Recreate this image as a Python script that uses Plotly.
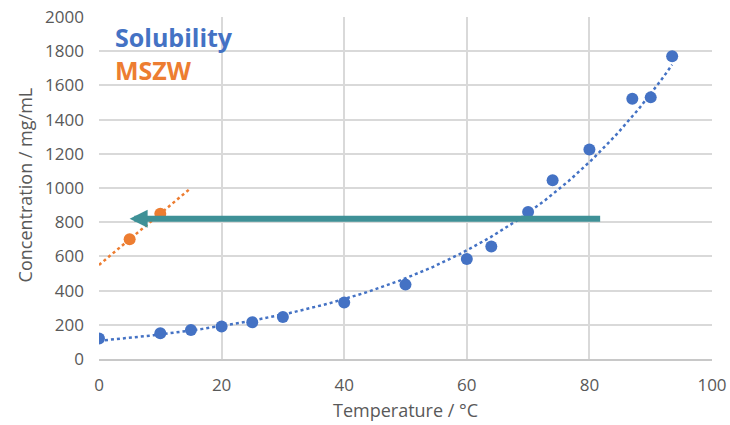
import numpy as np
import plotly.graph_objects as go

# ---- data ----
sol_temp = [0, 10, 15, 20, 25, 30, 40, 50, 60, 64, 70, 74, 80, 87, 90, 93.5]
sol_conc = [120, 150, 170, 190, 215, 245, 330, 435, 585, 658, 860, 1045, 1225, 1522, 1530, 1770]
mszw_temp = [5, 10]
mszw_conc = [700, 850]
x_ticks = [0, 20, 40, 60, 80, 100]
y_ticks = [0, 200, 400, 600, 800, 1000, 1200, 1400, 1600, 1800, 2000]
arrow_conc = 820
arrow_t_from = 82
arrow_t_to = 5

BLUE = "#4472C4"
ORANGE = "#ED7D31"
TEAL = "#3F9197"
GREY = "#595959"
GRID = "#D9D9D9"

# exponential trendline for solubility (fit like Excel)
st = np.array(sol_temp, dtype=float)
sc = np.array(sol_conc, dtype=float)
b, lna = np.polyfit(st, np.log(sc), 1)
tx = np.linspace(st.min(), st.max(), 200)
ty = np.exp(lna) * np.exp(b * tx)

# linear trendline for MSZW, extended 5 units both ways
mt = np.array(mszw_temp, dtype=float)
mc = np.array(mszw_conc, dtype=float)
m, c0 = np.polyfit(mt, mc, 1)
mx = np.array([mt.min() - 5, mt.max() + 5])
my = m * mx + c0

fig = go.Figure()
fig.add_trace(go.Scatter(x=tx, y=ty, mode="lines",
                         line=dict(color=BLUE, width=2.5, dash="dot"),
                         hoverinfo="skip", showlegend=False))
fig.add_trace(go.Scatter(x=mx, y=my, mode="lines",
                         line=dict(color=ORANGE, width=2.5, dash="dot"),
                         hoverinfo="skip", showlegend=False))
fig.add_trace(go.Scatter(x=sol_temp, y=sol_conc, mode="markers",
                         marker=dict(color=BLUE, size=12), name="Solubility",
                         showlegend=False))
fig.add_trace(go.Scatter(x=mszw_temp, y=mszw_conc, mode="markers",
                         marker=dict(color=ORANGE, size=12), name="MSZW",
                         showlegend=False))

fig.add_annotation(x=arrow_t_to, y=arrow_conc, ax=arrow_t_from, ay=arrow_conc,
                   xref="x", yref="y", axref="x", ayref="y",
                   showarrow=True, arrowhead=2, arrowsize=0.6, arrowwidth=6,
                   arrowcolor=TEAL, text="")

fig.add_annotation(x=0.023, y=0.893, xref="paper", yref="paper",
                   xanchor="left", yanchor="middle", showarrow=False, align="left",
                   text=(f"<b><span style='color:{BLUE}'>Solubility</span><br>"
                         f"<span style='color:{ORANGE}'>MSZW</span></b>"),
                   font=dict(family="Open Sans", size=25, color=BLUE))

axis_font = dict(family="Open Sans", size=17, color=GREY)
title_font = dict(family="Open Sans", size=18, color=GREY)

fig.add_annotation(x=0.5, y=-0.15, xref="paper", yref="paper",
                   xanchor="center", yanchor="middle", showarrow=False,
                   text="Temperature / °C", font=title_font)
fig.add_annotation(x=-0.121, y=0.51, xref="paper", yref="paper",
                   xanchor="center", yanchor="middle", showarrow=False,
                   textangle=-90, text="Concentration / mg/mL", font=title_font)

fig.update_xaxes(range=[0, 100], tickvals=x_ticks, showgrid=True, gridcolor=GRID,
                 gridwidth=1.5, zeroline=False, showline=True, linecolor="#C8C8C8",
                 linewidth=1.5, mirror=False, ticks="", tickfont=axis_font,
                 ticklabelstandoff=10, automargin=False, ticklabeloverflow="allow")
fig.update_yaxes(range=[0, 2000], tickvals=y_ticks, showgrid=True, gridcolor=GRID,
                 gridwidth=1.5, zeroline=False, showline=False, ticks="",
                 tickfont=axis_font, ticklabelstandoff=14, automargin=False,
                 ticklabeloverflow="allow")

fig.update_layout(width=730, height=425,
                  margin=dict(l=99, r=18, t=17, b=66),
                  plot_bgcolor="white", paper_bgcolor="white",
                  font=dict(family="Open Sans", color=GREY))

# remove the page's default body margin so the 730x425 figure fills the window
fig.write_html("out.html",
               config={"displayModeBar": False},
               post_script="document.body.style.margin='0px';"
                           "document.body.style.overflow='hidden';")
